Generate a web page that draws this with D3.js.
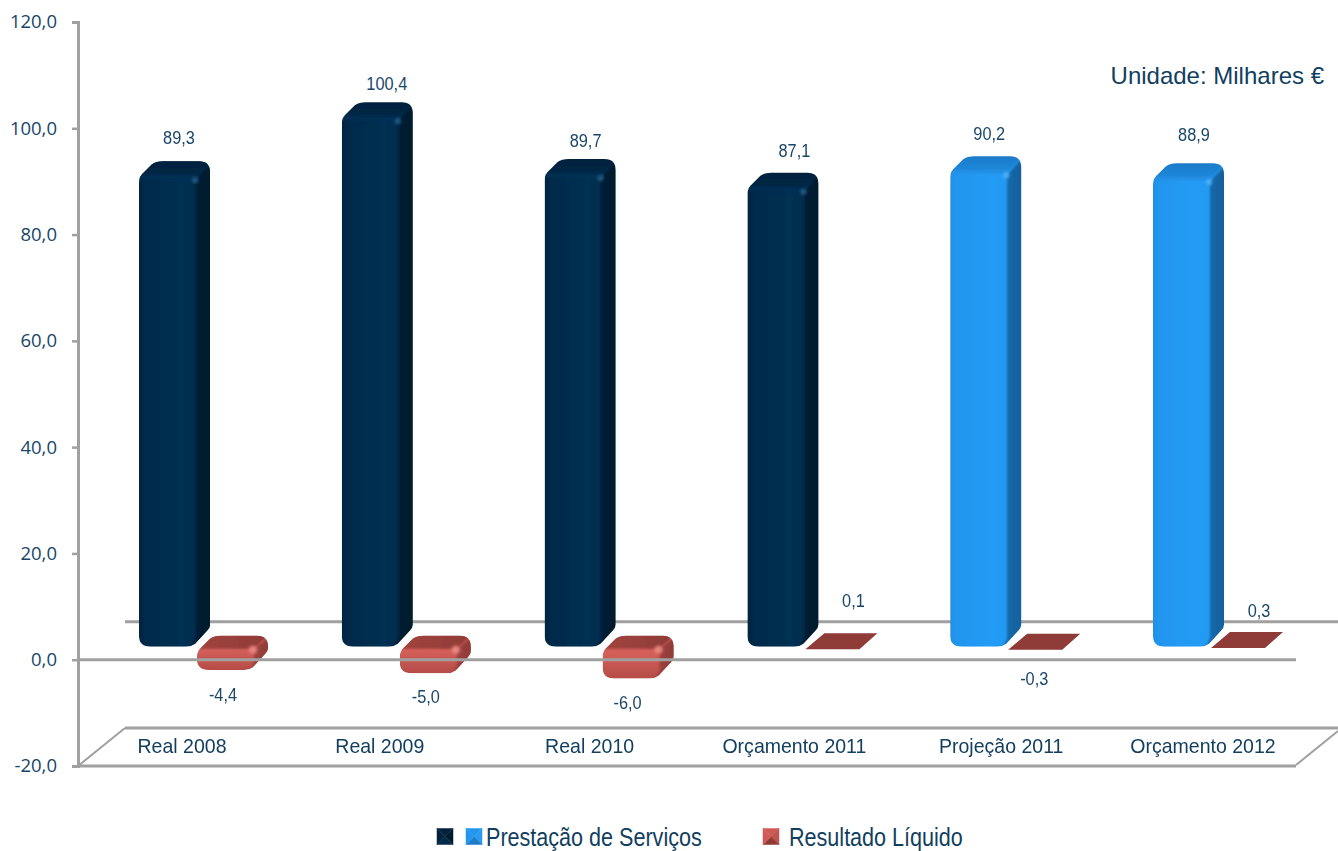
<!DOCTYPE html>
<html><head><meta charset="utf-8">
<script src="https://cdn.jsdelivr.net/npm/d3@7"></script>
<style>html,body{margin:0;padding:0;background:#fff}svg{display:block}</style>
</head><body><svg id="c" width="1338" height="851"></svg>
<script>
const categories = ["Real 2008","Real 2009","Real 2010","Orçamento 2011","Projeção 2011","Orçamento 2012"];
const servicos = [89.3,100.4,89.7,87.1,90.2,88.9];
const resultado = [-4.4,-5.0,-6.0,0.1,-0.3,0.3];
const servicosKind = ["real","real","real","real","proj","proj"];
const yTicks = [-20,0,20,40,60,80,100,120];
const seriesNames = ["Prestação de Serviços","Resultado Líquido"];
const unitNote = "Unidade: Milhares €";

// layout nudges (label placement in the source is irregular)
const catNudge = [-2,-7,0,2,6,5];
const svcLabelNudge = [[5,-1],[10,4],[6,4],[12,0],[4,0],[6,-6]];
const resLabelNudge = [[-9,0],[-9,-1],[-10,-1],[13,-16],[-9,6],[13,-5]];

const fmt = v => d3.format(".1f")(v).replace(".",",").replace("−","-");
const svg = d3.select("#c");
const y = d3.scaleLinear().domain([-20,120]).range([766,22]);
const x0 = d3.scaleBand().domain(categories).range([139,1269]).paddingInner(0.428);
const x1 = d3.scaleBand().domain(["svc","res"]).range([0,x0.bandwidth()]);

const defs = svg.append("defs");
function hGrad(id,stops){const g=defs.append("linearGradient").attr("id",id).attr("x1",0).attr("x2",1).attr("y1",0).attr("y2",0);
  stops.forEach(s=>g.append("stop").attr("offset",s[0]).attr("stop-color",s[1]));}
function vGrad(id,stops){const g=defs.append("linearGradient").attr("id",id).attr("x1",0).attr("x2",0).attr("y1",0).attr("y2",1);
  stops.forEach(s=>g.append("stop").attr("offset",s[0]).attr("stop-color",s[1]));}
hGrad("fReal",[[0,"#03243f"],[.1,"#042a4a"],[.6,"#053052"],[1,"#042a4a"]]);
hGrad("sReal",[[0,"#031f38"],[.5,"#021b30"],[1,"#021a2e"]]);
vGrad("tReal",[[0,"#03223c"],[.7,"#032644"],[1,"#05325a"]]);
hGrad("fProj",[[0,"#1f8fe6"],[.1,"#2296ee"],[.6,"#249cf6"],[1,"#2296ee"]]);
hGrad("sProj",[[0,"#1a6cae"],[1,"#175f9c"]]);
vGrad("tProj",[[0,"#1c78c4"],[.7,"#1f86d8"],[1,"#2596ee"]]);
vGrad("fRes",[[0,"#cf5a55"],[.4,"#d45f5a"],[1,"#b54c47"]]);
hGrad("sRes",[[0,"#a24540"],[1,"#8e3a37"]]);
const paints={real:["fReal","sReal","tReal","#1d5a85"],proj:["fProj","sProj","tProj","#4fb0f5"],res:["fRes","sRes","sRes","#e8847e"]};
const soft=defs.append("filter").attr("id","soft").attr("x","-5%").attr("y","-5%").attr("width","110%").attr("height","110%");
soft.append("feGaussianBlur").attr("stdDeviation",0.45);
const soft2=defs.append("filter").attr("id","soft2").attr("x","-30%").attr("y","-30%").attr("width","160%").attr("height","160%");
soft2.append("feGaussianBlur").attr("stdDeviation",0.9);
const glow=defs.append("filter").attr("id","glow").attr("x","-100%").attr("y","-100%").attr("width","300%").attr("height","300%");
glow.append("feGaussianBlur").attr("stdDeviation",1.8);

const GREY="#a0a0a0";
const floorG = svg.append("g").attr("fill","none").attr("stroke",GREY).attr("stroke-width",3);
const line = d3.line();
const XL=78, XB=125, XR=1296, XE=1338, BACK=38;
floorG.append("path").attr("d",line([[XB,y(0)-BACK],[XE,y(0)-BACK]]));
floorG.append("path").attr("d",line([[XB,y(-20)-BACK],[XE,y(-20)-BACK]]));
floorG.append("path").attr("d",line([[XL,y(-20)],[XB,y(-20)-BACK]])).attr("stroke-width",2);
floorG.append("path").attr("d",line([[XR,y(-20)-1],[XE,y(-20)-BACK+3]])).attr("stroke-width",2);

const axisG = svg.append("g").attr("transform",`translate(${XL},0)`)
  .call(d3.axisLeft(y).tickValues(yTicks).tickSize(6).tickPadding(15).tickFormat(fmt));
axisG.selectAll("path,line").attr("stroke",GREY).attr("stroke-width",2.5);
axisG.select(".domain").attr("stroke-width",3);
axisG.selectAll("text").attr("font-family","'Open Sans'").attr("font-size",18.5).attr("fill","#17466a");

let clipN=0;
function box(g,L,T,B,kind){
  const [f,s,t,hi]=paints[kind];
  const R=L+x1.bandwidth()*71/58, SW=14, CAP=kind==="res"?13:18, D=19;
  const sil=`M${L},${T+D+2} Q${L},${T+D-4} ${L+5},${T+D-8} L${L+D-6},${T+3} Q${L+D-2},${T} ${L+D+5},${T} L${R-11},${T} Q${R},${T} ${R},${T+11} L${R},${B-D-3} Q${R},${B-D} ${R-3},${B-D+3} L${R-D+4},${B-3} Q${R-D},${B} ${R-D-5},${B} L${L+12},${B} Q${L},${B} ${L},${B-11} Z`;
  const id="clip"+(clipN++);
  defs.append("clipPath").attr("id",id).append("path").attr("d",sil);
  const b=g.append("g").attr("clip-path",`url(#${id})`);
  b.append("rect").attr("x",L).attr("y",T).attr("width",R-L).attr("height",B-T).attr("fill",`url(#${f})`);
  b.append("path").attr("d",`M${R-SW},${T+CAP} L${R+3},${T} L${R+3},${B+3} L${R-D-3},${B+3} Q${R-SW+1},${B-5} ${R-SW},${B-12} Z`).attr("fill",`url(#${s})`).attr("filter","url(#soft2)");
  b.append("path").attr("d",`M${L-3},${T+CAP} L${R-SW},${T+CAP} L${R+3},${T-3} L${L-3},${T-3} Z`).attr("fill",`url(#${t})`).attr("filter","url(#soft2)");
  b.append("circle").attr("cx",R-SW-1).attr("cy",T+CAP+1).attr("r",kind==="res"?4:3).attr("fill",hi).attr("filter","url(#glow)");
}

const barsG = svg.append("g").attr("filter","url(#soft)");
const front0 = y(0)-13;
categories.forEach((c,i)=>{
  box(barsG,x0(c)+x1("svc"),y(servicos[i])-24,front0,servicosKind[i]);
});
categories.forEach((c,i)=>{
  const v=resultado[i], L=x0(c)+x1("res");
  if(Math.abs(v)>=1){
    box(barsG,L,y(0)-24,y(v)-13,"res");
  } else {
    const T=y(Math.max(v,0))-26, B=T+16, R=L+72;
    barsG.append("path").attr("d",line([[L,B],[L+19,T],[R,T],[R-18,B]])+"Z").attr("fill","#8f3a38");
  }
});

const frontG = svg.append("g").attr("fill","none").attr("stroke",GREY).attr("stroke-width",3);
frontG.append("path").attr("d",line([[XL,y(0)],[XR,y(0)]]));
frontG.append("path").attr("d",line([[XL,y(-20)],[XR,y(-20)]]));

const TXT="#1a4668";
const FF="'Liberation Sans'";
function condensed(sel,xp,yp,str,size,sx,fill,anchor){
  return sel.append("text").attr("transform",`translate(${xp},${yp}) scale(${sx},1)`)
    .attr("text-anchor",anchor||"middle").attr("font-family",FF).attr("font-size",size).attr("fill",fill||TXT).text(str);
}
const lab=svg.append("g");
categories.forEach((c,i)=>{
  condensed(lab,x0(c)+x1("res")-13+catNudge[i],753,c,21,0.93,"#123f60");
  const cx=x0(c)+x1("svc")+x1.bandwidth()*35/58;
  condensed(lab,cx+svcLabelNudge[i][0],y(servicos[i])-24-16+svcLabelNudge[i][1],fmt(servicos[i]),19,0.86);
  const v=resultado[i], rx=x0(c)+x1("res")+35;
  const ry=v<0?(y(v)-13+31):(y(v)-24-12);
  condensed(lab,rx+resLabelNudge[i][0],ry+resLabelNudge[i][1],fmt(v),19,0.86);
});

svg.append("text").attr("x",1324).attr("y",84).attr("text-anchor","end").attr("font-family",FF)
  .attr("font-size",24).attr("fill","#123f60").text(unitNote);

function swatch(xp,yp,c){
  const n=16,g=svg.append("g").attr("transform",`translate(${xp},${yp})`).attr("filter","url(#soft)");
  const m=[n/2,n/2];
  [[[0,0],[n,0],c[1]],[[n,0],[n,n],c[2]],[[n,n],[0,n],c[0]],[[0,n],[0,0],c[1]]].forEach(a=>{
    g.append("path").attr("d",line([a[0],a[1],m])+"Z").attr("fill",a[2]).attr("stroke",a[2]).attr("stroke-width",0.5);
  });
}
swatch(437,828.5,["#04294a","#03223c","#021a2e"]);
swatch(466,828.5,["#1e7cc8","#2296ee","#2b9cf0"]);
swatch(763,828.5,["#8e3a37","#cf5a55","#c05450"]);
condensed(svg,486,846,seriesNames[0],26,0.83,"#123f60","start");
condensed(svg,789,846,seriesNames[1],26,0.83,"#123f60","start");
</script></body></html>
